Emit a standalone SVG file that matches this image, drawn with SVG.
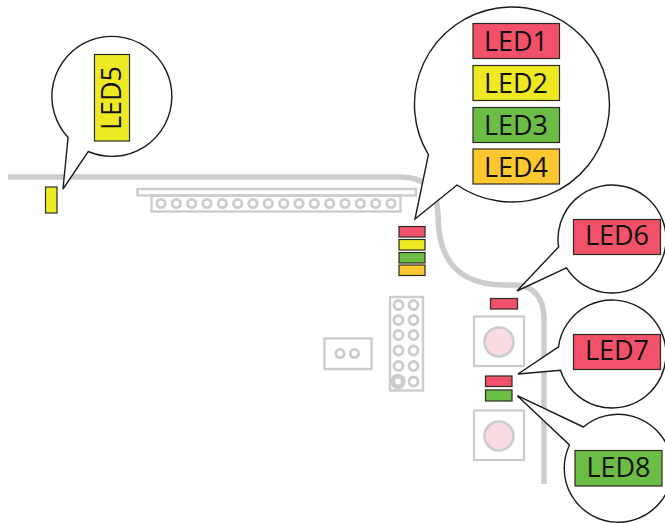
<svg xmlns="http://www.w3.org/2000/svg" width="665" height="523" viewBox="0 0 665 523">
<style>
.g{fill:none;stroke:#cccccc;stroke-width:2.4}
.c{fill:none;stroke:#cccccc;stroke-width:2.8}
.p{fill:#fff;stroke:#cccccc;stroke-width:2.2}
.b{fill:#fff;stroke:#1a1a1a;stroke-width:1.4;stroke-linejoin:miter}
.l{stroke:#2a2a20;stroke-width:1.2}
.s{stroke:#2a2a20;stroke-width:1.2}
.r{fill:#f15169}.y{fill:#eee923}.n{fill:#6cbd45}.o{fill:#fdc82f}
text{font-family:"Open Sans","Noto Sans",sans-serif;font-size:28px;fill:#111;text-anchor:middle}
</style>
<rect width="665" height="523" fill="#fff"/>
<g id="board">
<path d="M8 177H400C425 177 438 190 438 215C438 262 460 285 505 285H515C533 285 544 298 544 318V484" fill="none" stroke="#cccccc" stroke-width="5.5"/>
<rect class="g" x="137.5" y="189" width="278.5" height="6.5"/>
<rect class="g" x="151.5" y="195.5" width="249" height="16"/>
<g class="c">
<circle cx="161" cy="203.5" r="4.200"/><circle cx="176.3" cy="203.5" r="4.200"/><circle cx="191.7" cy="203.5" r="4.200"/><circle cx="207" cy="203.5" r="4.200"/><circle cx="222.3" cy="203.5" r="4.200"/><circle cx="237.7" cy="203.5" r="4.200"/><circle cx="253" cy="203.5" r="4.200"/><circle cx="268.3" cy="203.5" r="4.200"/><circle cx="283.7" cy="203.5" r="4.200"/><circle cx="299" cy="203.5" r="4.200"/><circle cx="314.3" cy="203.5" r="4.200"/><circle cx="329.7" cy="203.5" r="4.200"/><circle cx="345" cy="203.5" r="4.200"/><circle cx="360.3" cy="203.5" r="4.200"/><circle cx="375.7" cy="203.5" r="4.200"/><circle cx="391" cy="203.5" r="4.200"/>
</g>
<rect class="g" x="324.5" y="338.5" width="47" height="30.5"/>
<circle class="c" cx="340" cy="353.5" r="4.200"/><circle class="c" cx="354.5" cy="353.5" r="4.200"/>
<rect class="g" x="390" y="297" width="33" height="93.5"/>
<g class="c">
<circle cx="398.5" cy="305" r="4.500"/><circle cx="413.5" cy="305" r="4.500"/><circle cx="398.5" cy="320" r="4.500"/><circle cx="413.5" cy="320" r="4.500"/><circle cx="398.5" cy="335" r="4.500"/><circle cx="413.5" cy="335" r="4.500"/><circle cx="398.5" cy="350.5" r="4.500"/><circle cx="413.5" cy="350.5" r="4.500"/><circle cx="398.5" cy="366" r="4.500"/><circle cx="413.5" cy="366" r="4.500"/><circle cx="413.5" cy="381.5" r="4.500"/>
</g>
<circle cx="398" cy="381.5" r="5.300" fill="#fff" stroke="#cccccc" stroke-width="4.800"/>
<rect class="p" x="474" y="316.5" width="50" height="49.5"/>
<circle cx="499" cy="342" r="14.5" fill="#fadbe0" stroke="#cccccc" stroke-width="2.6"/>
<rect class="p" x="474" y="410.5" width="50" height="49.5"/>
<circle cx="499" cy="436" r="14.5" fill="#fadbe0" stroke="#cccccc" stroke-width="2.6"/>
</g>
<g id="connectors">
<path class="b" d="M68.100 137.400L63 189L88.200 151.500A60 60 0 1 0 68.100 137.400Z"/>
<path class="b" d="M428.400 154.700L415 219L457 185A97.500 97.500 0 1 0 428.400 154.700Z"/>
<path class="b" d="M558.600 246.900L517 291L566.400 267.900A54 54 0 1 0 558.600 246.900Z"/>
<path class="b" d="M558.500 346.800L518 374L560.500 370.200A54 54 0 1 0 558.500 346.800Z"/>
<path class="b" d="M583.400 427L517.300 395.700L569.500 445A54 54 0 1 0 583.400 427Z"/>
</g>
<g id="led5"><rect class="s y" x="45.5" y="187" width="11.5" height="26"/></g>
<g id="led1"><rect class="s r" x="399" y="226.5" width="26" height="10.5"/></g>
<g id="led2"><rect class="s y" x="399" y="239.5" width="26" height="10.5"/></g>
<g id="led3"><rect class="s n" x="399" y="252.5" width="26" height="10.5"/></g>
<g id="led4"><rect class="s o" x="399" y="265" width="26" height="10.5"/></g>
<g id="led6"><rect class="s r" x="490.5" y="298.5" width="27" height="10.5"/></g>
<g id="led7"><rect class="s r" x="485.5" y="376" width="26.5" height="10.5"/></g>
<g id="led8"><rect class="s n" x="485.5" y="390" width="26.5" height="11"/></g>
<g id="label-led1"><rect class="l r" x="473" y="23.5" width="86.5" height="35"/><text x="516" y="50.500" textLength="64" lengthAdjust="spacingAndGlyphs">LED1</text></g>
<g id="label-led2"><rect class="l y" x="473" y="65.5" width="86.5" height="35"/><text x="516" y="92.500" textLength="64" lengthAdjust="spacingAndGlyphs">LED2</text></g>
<g id="label-led3"><rect class="l n" x="473" y="107.5" width="86.5" height="35"/><text x="516" y="134.500" textLength="64" lengthAdjust="spacingAndGlyphs">LED3</text></g>
<g id="label-led4"><rect class="l o" x="473" y="149" width="86.5" height="35"/><text x="516" y="176.500" textLength="64" lengthAdjust="spacingAndGlyphs">LED4</text></g>
<g id="label-led5"><rect class="l y" x="94.500" y="54.5" width="35" height="86.5"/><text transform="translate(121 98) rotate(-90)" textLength="64" lengthAdjust="spacingAndGlyphs">LED5</text></g>
<g id="label-led6"><rect class="l r" x="573.5" y="219.500" width="87" height="35"/><text x="617" y="245" textLength="64" lengthAdjust="spacingAndGlyphs">LED6</text></g>
<g id="label-led7"><rect class="l r" x="573.500" y="334.500" width="87" height="35"/><text x="617" y="360" textLength="64" lengthAdjust="spacingAndGlyphs">LED7</text></g>
<g id="label-led8"><rect class="l n" x="575" y="450.500" width="87" height="35.500"/><text x="618.500" y="476.500" textLength="64" lengthAdjust="spacingAndGlyphs">LED8</text></g>
</svg>
